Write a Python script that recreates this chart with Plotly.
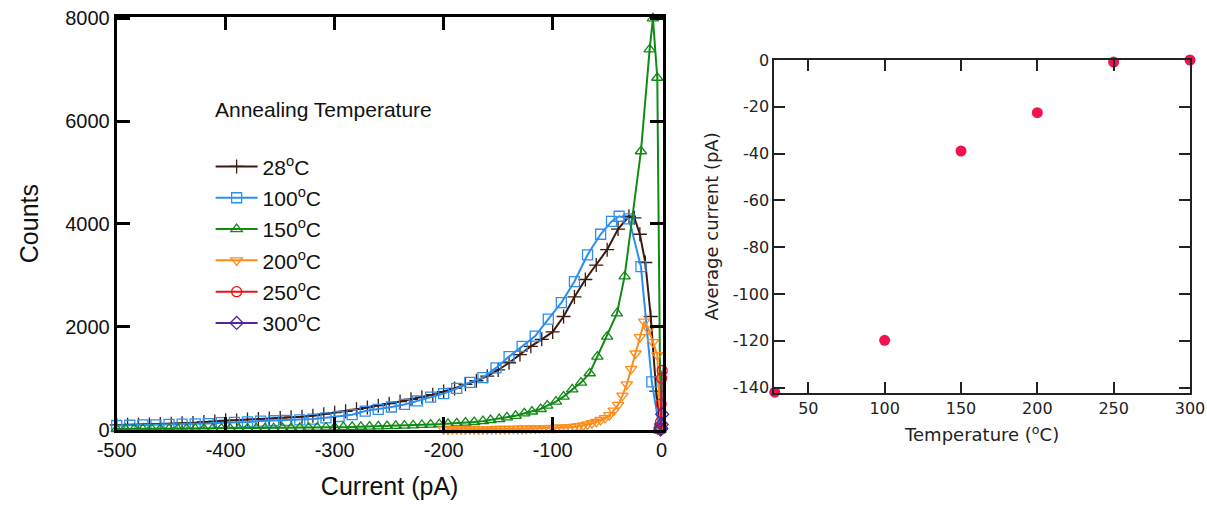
import plotly.graph_objects as go

# ---------------- Left panel: current histograms ----------------
cur_28 = [-500, -490, -480, -470, -460, -450, -440, -430, -420, -410, -400, -390, -380, -370, -360,
          -350, -340, -330, -320, -310, -300, -290, -280, -270, -260, -250, -240, -230, -220, -210,
          -200, -190, -180, -170, -160, -150, -140, -130, -120, -110, -100, -90, -80, -70, -60,
          -50, -40, -30, -25, -20, -15, -10, -5, -1]
cnt_28 = [90, 95, 92, 100, 110, 112, 125, 130, 150, 160, 180, 178, 195, 205, 215,
          228, 240, 252, 270, 300, 330, 355, 395, 430, 465, 505, 545, 590, 630, 680,
          740, 800, 880, 950, 1040, 1160, 1300, 1460, 1620, 1755, 1900, 2200, 2580, 2920, 3200,
          3500, 3900, 4150, 4120, 3800, 3250, 2200, 750, 40]

cur_100 = [-500, -488, -476, -464, -452, -440, -428, -416, -404, -392, -380, -368, -356, -344, -332,
           -320, -308, -296, -284, -272, -260, -248, -236, -224, -212, -200, -188, -176, -164, -152,
           -140, -128, -116, -104, -92, -80, -68, -56, -46, -39, -30, -19, -9, -2]
cnt_100 = [80, 85, 90, 92, 100, 105, 110, 118, 135, 140, 150, 165, 172, 180, 190,
           205, 230, 255, 290, 360, 395, 440, 490, 560, 630, 700, 800, 920, 1010, 1200,
           1420, 1620, 1820, 2150, 2470, 2880, 3400, 3800, 4050, 4150, 4100, 3170, 930, 25]

cur_150 = [-500, -492, -484, -476, -468, -460, -452, -444, -436, -428, -420, -412, -404, -396, -388,
           -380, -372, -364, -356, -348, -340, -332, -324, -316, -308, -300, -292, -284, -276, -268,
           -260, -252, -244, -236, -228, -220, -212, -204, -196, -188, -180, -172, -164, -157, -149,
           -142, -134, -126, -119, -111, -105, -97, -90, -82, -74, -66, -59, -50, -41, -34,
           -19, -11, -8, -4, -1]
cnt_150 = [10, 11, 10, 12, 13, 12, 14, 15, 14, 16, 17, 18, 19, 20, 21,
           22, 24, 25, 27, 29, 31, 33, 36, 38, 42, 45, 48, 52, 55, 59,
           63, 68, 73, 78, 84, 90, 97, 105, 113, 123, 135, 148, 165, 187, 205,
           239, 268, 317, 352, 401, 466, 544, 642, 784, 914, 1096, 1421, 1810, 2260, 2979,
           5414, 7395, 8000, 6844, 0]

cur_200 = [-200, -196, -192, -188, -184, -180, -176, -172, -168, -164, -160, -156, -152, -148, -144,
           -140, -136, -132, -128, -124, -120, -116, -112, -108, -104, -100, -96, -92, -88, -84,
           -80, -76, -72, -68, -64, -60, -56, -52, -48, -44, -40, -36, -32, -28, -24,
           -20, -16, -12, -8, -4, -1]
cnt_200 = [5, 5, 6, 6, 7, 7, 8, 8, 9, 10, 10, 11, 12, 13, 14,
           15, 16, 17, 18, 20, 22, 24, 26, 28, 30, 33, 36, 40, 44, 50,
           57, 68, 80, 100, 125, 150, 187, 225, 280, 370, 480, 660, 880, 1180, 1480,
           1800, 2100, 1950, 1700, 1450, 60]

cur_250 = [-2.0, -1.5, -1.0, -0.5, 0.0, 0.5, 1.0, 1.5, 2.0]
cnt_250 = [0, 30, 150, 500, 1000, 1150, 700, 200, 10]

cur_300 = [-1.0, -0.5, 0.0, 0.5, 1.0, 1.5, 2.0, 2.5]
cnt_300 = [0, 20, 100, 300, 600, 1250, 900, 150]

series_names = ["28<sup>o</sup>C", "100<sup>o</sup>C", "150<sup>o</sup>C",
                "200<sup>o</sup>C", "250<sup>o</sup>C", "300<sup>o</sup>C"]
series_colors = ["#3a1a12", "#2a8ff0", "#118a16", "#ff8c1a", "#ee1111", "#55279a"]
series_symbols = ["cross-thin", "square-open", "triangle-up-open",
                  "triangle-down-open", "circle-open", "diamond-open"]

x_ticks_left = [-500, -400, -300, -200, -100, 0]
x_tick_text_left = ["-500", "-400", "-300", "-200", "-100", "0"]
y_ticks_left = [0, 2000, 4000, 6000, 8000]
y_tick_text_left = ["0", "2000", "4000", "6000", "8000"]

# ---------------- Right panel: average current ----------------
temps = [28, 100, 150, 200, 250, 300]
avg_current = [-142.0, -119.8, -38.9, -22.5, -0.9, 0.0]

x_ticks_right = [50, 100, 150, 200, 250, 300]
x_tick_text_right = ["50", "100", "150", "200", "250", "300"]
y_ticks_right = [0, -20, -40, -60, -80, -100, -120, -140]
y_tick_text_right = ["0", "-20", "-40", "-60", "-80", "-100", "-120", "-140"]

fig = go.Figure()

data_sets = [(cur_28, cnt_28), (cur_100, cnt_100), (cur_150, cnt_150),
             (cur_200, cnt_200), (cur_250, cnt_250), (cur_300, cnt_300)]
for i, ((xs, ys), name, col, sym) in enumerate(zip(data_sets, series_names, series_colors, series_symbols)):
    fig.add_trace(go.Scatter(
        x=xs, y=ys, name=name, mode="lines+markers",
        line=dict(color=col, width=2),
        marker=dict(symbol=sym, size=10, color=col,
                    line=dict(color=col, width=1.3)),
        legendgroup="g%d" % i,
        cliponaxis=False,
        xaxis="x", yaxis="y",
    ))

fig.add_trace(go.Scatter(
    x=temps, y=avg_current, mode="markers", showlegend=False,
    marker=dict(symbol="circle", size=11, color="#f0134d"),
    cliponaxis=False, xaxis="x2", yaxis="y2",
))

left_font = "Liberation Sans, Arial, sans-serif"
right_font = "DejaVu Sans, Verdana, sans-serif"

fig.update_layout(
    width=1207, height=508,
    margin=dict(l=0, r=0, t=0, b=0, autoexpand=False),
    paper_bgcolor="white", plot_bgcolor="white",
    showlegend=True,
    legend=dict(
        x=0.1745, y=0.712, xanchor="left", yanchor="top",
        bgcolor="rgba(0,0,0,0)",
        font=dict(family=left_font, size=21, color="#111"),
        tracegroupgap=1,
        itemwidth=42,
    ),
    xaxis=dict(
        domain=[0.0967, 0.5489], range=[-500, 0.8], automargin=False,
        tickvals=x_ticks_left, ticktext=x_tick_text_left,
        ticks="inside", ticklen=13, tickwidth=2.5, tickcolor="black",
        showline=True, linewidth=3, linecolor="black", mirror="ticks",
        showgrid=False, zeroline=False,
        tickfont=dict(family=left_font, size=20, color="#111"),
        title=dict(text="Current (pA)", font=dict(family=left_font, size=25, color="#111"), standoff=18),
        anchor="y",
    ),
    yaxis=dict(
        domain=[0.1526, 0.9671], range=[-17, 8031], automargin=False,
        tickvals=y_ticks_left, ticktext=y_tick_text_left,
        ticks="inside", ticklen=13, tickwidth=2.5, tickcolor="black",
        showline=True, linewidth=3, linecolor="black", mirror="ticks",
        showgrid=False, zeroline=False,
        tickfont=dict(family=left_font, size=20, color="#111"),
        title=dict(text="Counts", font=dict(family=left_font, size=25, color="#111"), standoff=20),
        anchor="x",
    ),
    xaxis2=dict(
        domain=[0.6415, 0.9859], range=[27.7, 300], automargin=False,
        tickvals=x_ticks_right, ticktext=x_tick_text_right,
        ticks="inside", ticklen=11, tickwidth=2, tickcolor="#222",
        showline=True, linewidth=2, linecolor="#222", mirror="ticks",
        showgrid=False, zeroline=False,
        tickfont=dict(family=right_font, size=16, color="#222"),
        title=dict(text="Temperature (<sup>o</sup>C)", font=dict(family=right_font, size=18, color="#222"), standoff=12),
        anchor="y2",
    ),
    yaxis2=dict(
        domain=[0.2270, 0.8819], range=[-142.2, 0], automargin=False,
        tickvals=y_ticks_right, ticktext=y_tick_text_right,
        ticks="inside", ticklen=11, tickwidth=2, tickcolor="#222",
        showline=True, linewidth=2, linecolor="#222", mirror="ticks",
        showgrid=False, zeroline=False,
        tickfont=dict(family=right_font, size=16, color="#222"),
        title=dict(text="Average current (pA)", font=dict(family=right_font, size=18, color="#222"), standoff=9),
        anchor="x2",
    ),
    annotations=[dict(
        text="Annealing Temperature", x=213 / 1207, y=1 - 109 / 508,
        xref="paper", yref="paper", xanchor="left", yanchor="middle",
        showarrow=False, font=dict(family=left_font, size=21, color="#111"),
    )],
)

fig.write_html("out.html")
